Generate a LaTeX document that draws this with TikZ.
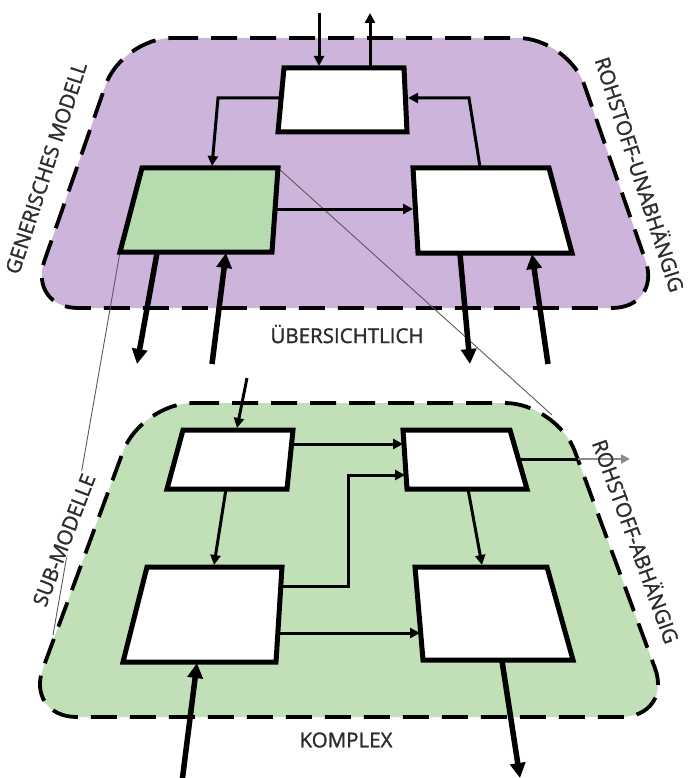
\documentclass[tikz,border=0pt]{standalone}
\usepackage{fontspec}
\setmainfont{Open Sans}
\newfontfamily\lblfont[FakeBold=1.4]{Open Sans}
\usetikzlibrary{arrows.meta}
\definecolor{purplefill}{RGB}{205,180,219}
\definecolor{greenplane}{RGB}{194,224,184}
\definecolor{greenbox}{RGB}{182,219,174}
\definecolor{txt}{RGB}{45,45,45}
\definecolor{guidecol}{RGB}{90,90,90}
\begin{document}
\begin{tikzpicture}[x=1pt,y=-1pt,
  plane/.style={line width=3.8pt, dash pattern=on 26pt off 13pt, rounded corners=50pt},
  boxline/.style={line width=5pt, line join=miter},
  thinarrow/.style={line width=3pt, -{Triangle[length=10pt,width=10pt]}},
  thickarrow/.style={line width=5.5pt, -{Triangle[length=15pt,width=15pt]}},
  lbl/.style={font=\lblfont\fontsize{20.5}{24}\selectfont, text=txt, inner sep=0pt},
  guide/.style={line width=0.9pt, draw=guidecol}
]
\useasboundingbox (0,0) rectangle (688,778);

% ---------- planes ----------
\fill[purplefill, rounded corners=50pt] (122,38) -- (568,38) -- (662,308) -- (28,308) -- cycle;
\draw[plane] (122,38) -- (568,38) -- (662,308) -- (28,308) -- cycle;
\fill[greenplane, rounded corners=52pt] (141,403) -- (557,403) -- (673,717) -- (25,717) -- cycle;
\draw[plane, rounded corners=52pt] (141,403) -- (557,403) -- (673,717) -- (25,717) -- cycle;

% ---------- top plane boxes ----------
\coordinate (tbA) at (284,68);  \coordinate (tbB) at (404,68);
\coordinate (tbC) at (407,132); \coordinate (tbD) at (278,132);
\coordinate (gbA) at (142,168); \coordinate (gbB) at (278,168);
\coordinate (gbC) at (272,252); \coordinate (gbD) at (120,252);
\coordinate (rbA) at (413,168); \coordinate (rbB) at (549,168);
\coordinate (rbC) at (572,253); \coordinate (rbD) at (418,253);

% ---------- bottom plane boxes ----------
\coordinate (tlA) at (183,430); \coordinate (tlB) at (293,430);
\coordinate (tlC) at (287,489); \coordinate (tlD) at (167,489);
\coordinate (trA) at (403,430); \coordinate (trB) at (510,430);
\coordinate (trC) at (527,489); \coordinate (trD) at (407,489);
\coordinate (blA) at (147,567); \coordinate (blB) at (282,567);
\coordinate (blC) at (276,662); \coordinate (blD) at (123,662);
\coordinate (brA) at (415,567); \coordinate (brB) at (547,567);
\coordinate (brC) at (573,660); \coordinate (brD) at (423,660);

% guide lines (projection)
\coordinate (gL) at (53,635);
\coordinate (gR) at (552,415);
\draw[guide] (gbD) -- (gL);
\draw[guide] (gbB) -- (gR);

\fill[white] (tbA) -- (tbB) -- (tbC) -- (tbD) -- cycle;
\draw[boxline] (tbA) -- (tbB) -- (tbC) -- (tbD) -- cycle;
\fill[greenbox] (gbA) -- (gbB) -- (gbC) -- (gbD) -- cycle;
\draw[boxline] (gbA) -- (gbB) -- (gbC) -- (gbD) -- cycle;
\fill[white] (rbA) -- (rbB) -- (rbC) -- (rbD) -- cycle;
\draw[boxline] (rbA) -- (rbB) -- (rbC) -- (rbD) -- cycle;

\foreach \b in {tl,tr,bl,br}{
  \fill[white] (\b A) -- (\b B) -- (\b C) -- (\b D) -- cycle;
  \draw[boxline] (\b A) -- (\b B) -- (\b C) -- (\b D) -- cycle;
}

% ---------- top plane connectors ----------
\coordinate (inT) at (319,13);   \coordinate (tbIn) at (319,66);
\coordinate (tbOut) at (370,66); \coordinate (outT) at (370,13);
\draw[thinarrow] (inT) -- (tbIn);
\draw[thinarrow] (tbOut) -- (outT);
\coordinate (tbL) at (281,98);  \coordinate (kL) at (218,98);  \coordinate (gbT) at (212,166);
\draw[thinarrow] (tbL) -- (kL) -- (gbT);
\coordinate (rbT) at (480,167); \coordinate (kR) at (469,98);  \coordinate (tbR) at (408,98);
\draw[thinarrow] (rbT) -- (kR) -- (tbR);
\coordinate (gbR) at (275,209); \coordinate (rbL) at (413,209);
\draw[thinarrow] (gbR) -- (rbL);

\coordinate (gbB1) at (157,253); \coordinate (o1) at (137,364);
\coordinate (i1) at (212,364);   \coordinate (gbB2) at (226,253);
\coordinate (rbB1) at (460,254); \coordinate (o2) at (470,364);
\coordinate (i2) at (548,364);   \coordinate (rbB2) at (532,254);
\draw[thickarrow] (gbB1) -- (o1);
\draw[thickarrow] (i1) -- (gbB2);
\draw[thickarrow] (rbB1) -- (o2);
\draw[thickarrow] (i2) -- (rbB2);

% ---------- bottom plane connectors ----------
\coordinate (inB) at (247,378); \coordinate (tlT) at (237,428);
\draw[thinarrow] (inB) -- (tlT);
\coordinate (tlR) at (291,444); \coordinate (trL1) at (403,444);
\draw[thinarrow] (tlR) -- (trL1);
\coordinate (blR1) at (280,586); \coordinate (k1) at (348,586); \coordinate (k2) at (348,475);
\coordinate (trL2) at (405,475);
\draw[thinarrow] (blR1) -- (k1) -- (k2) -- (trL2);
\coordinate (trR) at (518,459); \coordinate (edgeR) at (578,459); \coordinate (outR) at (630,459);
\draw[line width=3pt] (trR) -- (edgeR);
\draw[line width=2pt, draw=black!45, -{Triangle[length=9pt,width=9pt]}] (edgeR) -- (outR);
\coordinate (tlB1) at (226,489); \coordinate (blT) at (214,565);
\draw[thinarrow] (tlB1) -- (blT);
\coordinate (trB1) at (468,489); \coordinate (brT) at (482,565);
\draw[thinarrow] (trB1) -- (brT);
\coordinate (blR2) at (278,633); \coordinate (brL) at (420,633);
\draw[thinarrow] (blR2) -- (brL);
\coordinate (i3) at (182,782); \coordinate (blBot) at (197,663);
\draw[thickarrow] (i3) -- (blBot);
\coordinate (brBot) at (502,661); \coordinate (o3) at (520,778);
\draw[thickarrow] (brBot) -- (o3);

% ---------- labels ----------
\node[lbl] (l1) at (347,334) {ÜBERSICHTLICH};
\node[lbl] (l2) at (346,740) {KOMPLEX};
\node[lbl, rotate=72] (l3) at (46,168) {GENERISCHES MODELL};
\node[lbl, rotate=-72] (l4) at (641,174) {ROHSTOFF-UNABHÄNGIG};
\node[lbl, rotate=69, fill=white, inner sep=1pt] (l5) at (64,540) {SUB-MODELLE};
\node[lbl, rotate=-70] (l6) at (637,541) {ROHSTOFF-ABHÄNGIG};
\end{tikzpicture}
\end{document}
